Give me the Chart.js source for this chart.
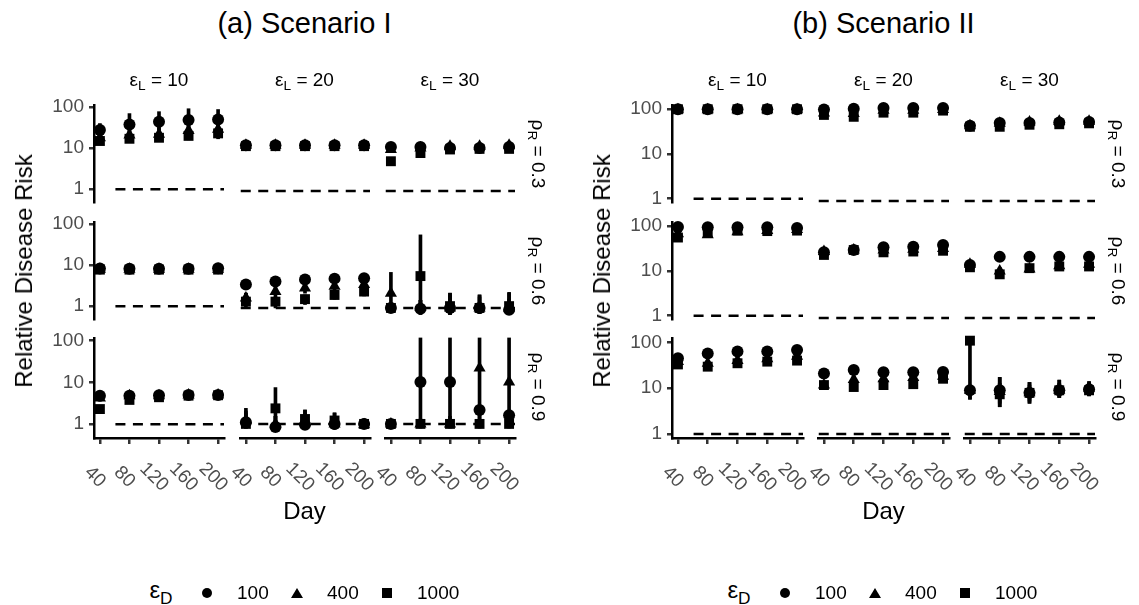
<!DOCTYPE html>
<html>
<head>
<meta charset="utf-8">
<script src="https://cdn.jsdelivr.net/npm/chart.js@4.4.1/dist/chart.umd.min.js"></script>
<style>
body { margin: 0; background: #fff; width: 1139px; height: 605px; position: relative; overflow: hidden; font-family: 'Liberation Sans', Arial, sans-serif; }
canvas { position: absolute; }
.t { position: absolute; white-space: nowrap; color: #000; line-height: 1; }
.t sub { font-size: 72%; vertical-align: baseline; position: relative; top: 0.32em; }
</style>
</head>
<body>
<script>
// categories
const days = [40, 80, 120, 160, 200];
const epsL = ['10', '20', '30'];
const rhoR = ['0.3', '0.6', '0.9'];
const epsD = ['100', '400', '1000'];
const yTicks = [1, 10, 100];

// one row per facet: (rhoR 0.3, epsL 10), (0.3, 20), (0.3, 30), (0.6, 10) ... (0.9, 30)
// Scenario I
const aEst100 = [[28, 38, 44, 49, 50], [11.5, 11.5, 11.5, 11.5, 11.5], [10.5, 10.5, 10, 10, 10.5],
                 [8.3, 8.2, 8.2, 8.2, 8.4], [3.5, 4.1, 4.6, 4.8, 4.9], [1.0, 0.95, 1.0, 1.0, 0.9],
                 [4.8, 4.8, 4.9, 5.0, 5.0], [1.1, 0.85, 0.95, 1.0, 1.0], [1.0, 9.5, 9.5, 2.1, 1.6]];
const aLo100 = [[20, 25, 28, 32, 32], [10, 10, 10, 10, 10], [9, 9, 9, 9, 9],
                [7, 7, 7, 7, 7], [3, 3.5, 4, 4, 4], [0.8, 0.75, 0.7, 0.75, 0.8],
                [4, 4, 4.2, 4.3, 4.3], [0.8, 0.75, 0.8, 0.75, 0.8], [0.9, 1.0, 1.0, 1.0, 1.0]];
const aHi100 = [[40, 70, 78, 92, 88], [13, 13, 13, 13, 13], [12, 12, 12, 12, 12],
                [9.5, 9.5, 9.5, 9.5, 9.5], [4, 4.6, 5.2, 5.4, 5.5], [1.3, 1.5, 2.2, 2.0, 2.2],
                [5.5, 5.5, 5.5, 5.6, 5.6], [2.3, 1.5, 2.1, 1.8, 1.3], [1.2, 100, 100, 2.5, 2.0]];
const aEst400 = [[18, 21, 22, 27, 29], [11.5, 11.5, 11.5, 11.5, 11.5], [9.2, 10, 11, 11, 11.5],
                 [8.0, 8.0, 8.0, 8.0, 8.0], [1.7, 2.4, 2.9, 3.2, 3.5], [2.2, 1.05, 1.0, 1.0, 1.0],
                 [4.2, 4.8, 4.8, 5.0, 5.0], [1.2, 1.0, 1.1, 1.0, 0.95], [1.0, 1.0, 1.0, 20, 9.5]];
const aLo400 = [[14, 16, 17, 19, 20], [10, 10, 10, 10, 10], [8, 8.5, 9.5, 9.5, 9.5],
                [7, 7, 7, 7, 7], [1.2, 1.8, 2.2, 2.5, 2.8], [1.0, 0.7, 0.7, 0.75, 0.8],
                [3.6, 4, 4.2, 4.3, 4.3], [0.8, 0.8, 0.85, 0.8, 0.8], [0.9, 1.0, 1.0, 1.0, 1.0]];
const aHi400 = [[24, 30, 32, 40, 42], [13, 13, 13, 13, 13], [10.5, 11.5, 12.5, 12.5, 13],
                [9.2, 9.2, 9.2, 9.2, 9.2], [2.2, 3, 3.5, 3.8, 4.2], [6.7, 1.5, 2.0, 1.8, 1.6],
                [5, 5.5, 5.5, 5.6, 5.6], [1.8, 1.5, 1.6, 1.5, 1.2], [1.2, 1.3, 1.5, 100, 100]];
const aEst1000 = [[15, 17, 18, 20, 23], [11, 11, 11, 11, 11], [4.9, 7.6, 9.2, 9.5, 9.5],
                  [7.8, 7.8, 7.8, 7.8, 7.8], [1.4, 1.4, 1.6, 2.0, 2.4], [1.0, 5.5, 1.1, 1.0, 1.1],
                  [2.3, 3.8, 4.4, 4.8, 4.9], [1.0, 2.3, 1.3, 1.2, 1.0], [1.0, 1.0, 1.0, 1.0, 1.0]];
const aLo1000 = [[13, 14, 15, 16, 17], [10, 10, 10, 10, 10], [4.2, 6.8, 8.3, 8.5, 8.5],
                 [6.8, 6.8, 6.8, 6.8, 6.8], [1.0, 1.0, 1.2, 1.6, 1.9], [0.8, 1.0, 0.75, 0.75, 0.75],
                 [2.0, 3.3, 3.9, 4.2, 4.3], [0.8, 1.0, 0.9, 0.8, 0.8], [0.9, 0.8, 0.8, 0.8, 0.8]];
const aHi1000 = [[17, 20, 21, 24, 28], [12.5, 12.5, 12.5, 12.5, 12.5], [5.5, 8.5, 10, 10.5, 10.5],
                 [8.8, 8.8, 8.8, 8.8, 8.8], [2.2, 1.8, 2.0, 2.5, 3.0], [1.3, 50, 2.2, 2.0, 2.3],
                 [2.7, 4.3, 4.9, 5.3, 5.4], [2.0, 7.0, 2.1, 1.8, 1.3], [1.2, 1.2, 1.2, 1.2, 1.2]];

// Scenario II
const bEst100 = [[100, 100, 100, 100, 100], [89, 92, 95, 95, 95], [40, 46, 46, 47, 48],
                 [96, 95, 95, 95, 92], [25, 28, 32, 33, 36], [13.5, 20, 20, 20, 20],
                 [45, 57, 63, 63, 68], [19.5, 23, 20.5, 20.5, 21], [8.5, 8.5, 7.5, 8.5, 9]];
const bLo100 = [[95, 95, 95, 95, 95], [80, 82, 86, 86, 86], [35, 40, 40, 41, 42],
                [88, 87, 87, 87, 85], [22, 25, 28, 29, 31], [11.5, 17.5, 17.5, 17.5, 17.5],
                [40, 50, 55, 55, 58], [17, 20, 18, 18, 18.5], [5.5, 3.8, 4.5, 6, 6.5]];
const bHi100 = [[104, 104, 104, 104, 104], [98, 100, 102, 102, 102], [46, 52, 52, 53, 54],
                [104, 104, 104, 104, 100], [28, 31, 36, 37, 40], [15.5, 22.5, 22.5, 22.5, 22.5],
                [50, 64, 70, 70, 75], [22, 26, 23, 23, 24], [10, 16, 12.5, 14, 13]];
const bEst400 = [[97, 97, 97, 97, 97], [75, 73, 86, 86, 89], [40, 45, 48, 50, 50],
                 [68, 65, 75, 80, 85], [26, 28, 28, 29, 30], [14, 10, 11, 13, 14],
                 [38, 35, 40, 44, 50], [11, 14.5, 15, 16, 17], [8.5, 8.0, 7.5, 8.5, 9.5]];
const bLo400 = [[92, 92, 92, 92, 92], [66, 64, 76, 76, 80], [35, 40, 42, 44, 44],
                [58, 56, 65, 70, 74], [22, 25, 25, 26, 26], [12, 8.5, 9.5, 11, 12],
                [32, 29, 34, 37, 42], [9.2, 12, 12.5, 13.5, 14], [5.5, 3.8, 4.5, 6, 6.5]];
const bHi400 = [[102, 102, 102, 102, 102], [84, 82, 95, 95, 98], [45, 50, 54, 56, 56],
                [78, 75, 86, 90, 95], [30, 31, 31, 32, 34], [16, 12, 13, 15, 16],
                [44, 41, 46, 51, 58], [13, 17, 17.5, 18.5, 20], [11, 16, 12.5, 14, 13]];
const bEst1000 = [[100, 100, 100, 100, 100], [68, 62, 76, 76, 84], [38, 38, 42, 43, 45],
                  [56, 72, 80, 78, 80], [22, 28, 25, 26, 27], [12, 8.5, 11.5, 12.5, 12.5],
                  [33, 29.5, 35, 38, 40], [11, 10, 11, 11.5, 15], [97, 7, 7.5, 8.5, 8.5]];
const bLo1000 = [[95, 95, 95, 95, 95], [60, 55, 68, 68, 75], [34, 34, 37, 38, 40],
                 [48, 63, 70, 69, 71], [19, 25, 22, 23, 24], [10, 7.5, 10, 11, 11],
                 [28, 26, 31, 34, 35], [9.5, 8.8, 9.8, 10, 13], [8, 4.5, 5, 6, 6.5]];
const bHi1000 = [[104, 104, 104, 104, 104], [76, 70, 85, 85, 93], [42, 42, 47, 48, 50],
                 [65, 82, 90, 88, 90], [25, 31, 28, 29, 30], [14, 9.8, 13, 14, 14],
                 [38, 34, 40, 43, 46], [12.5, 11.5, 12.5, 13, 17], [100, 12, 11, 12, 12]];

// dashed reference line at relative risk 1 (day range per column)
const refFrom = [61, 33, 33];
const refTo = 208;

const FONT = "'Liberation Sans', Arial, sans-serif";
const tops = [103, 219.5, 336];
const H = 102;

const panels = [
    { title: '(a) Scenario I', lefts: [94, 239.5, 385], w: 130, ymin: 0.47, ymax: 111,
      est: [aEst100, aEst400, aEst1000], lo: [aLo100, aLo400, aLo1000], hi: [aHi100, aHi400, aHi1000] },
    { title: '(b) Scenario II', lefts: [672, 818, 964], w: 131, ymin: 0.82, ymax: 122,
      est: [bEst100, bEst400, bEst1000], lo: [bLo100, bLo400, bLo1000], hi: [bHi100, bHi400, bHi1000] }
];

const shapes = ['circle', 'triangle', 'rect'];
const radii = [6, 7, 7];

function text(html, x, y, size, rot, color) {
    const d = document.createElement('div');
    d.className = 't';
    d.innerHTML = html;
    d.style.fontSize = size + 'px';
    d.style.left = x + 'px';
    d.style.top = y + 'px';
    d.style.color = color || '#000';
    d.style.transform = 'translate(-50%,-50%)' + (rot ? ' rotate(' + rot + 'deg)' : '');
    document.body.appendChild(d);
    return d;
}

// rotated day labels under the bottom row
const xLabels = {
    id: 'xLabels',
    afterDraw(chart, args, opts) {
        if (!opts.show) return;
        const ctx = chart.ctx, s = chart.scales.x, yb = chart.chartArea.bottom;
        ctx.save();
        ctx.fillStyle = '#4d4d4d';
        ctx.font = '19px ' + FONT;
        ctx.textAlign = 'center';
        ctx.textBaseline = 'middle';
        days.forEach(d => {
            ctx.save();
            ctx.translate(s.getPixelForValue(d) - 5, yb + 39);
            ctx.rotate(Math.PI / 4);
            ctx.fillText(String(d), 0, 0);
            ctx.restore();
        });
        ctx.restore();
    }
};

function makeFacet(P, r, c) {
    const f = r * 3 + c;
    const yw = c == 0 ? 50 : 0;
    const xh = r == 2 ? 6 : 0;
    const pad = { top: 14, right: 14, bottom: r == 2 ? 62 : 14, left: 14 };
    const cv = document.createElement('canvas');
    const cw = P.w + pad.left + pad.right + yw;
    const ch = H + pad.top + pad.bottom + xh;
    cv.width = cw; cv.height = ch;
    cv.style.width = cw + 'px'; cv.style.height = ch + 'px';
    cv.style.left = (P.lefts[c] - pad.left - yw) + 'px';
    cv.style.top = (tops[r] - pad.top) + 'px';
    document.body.appendChild(cv);

    const datasets = [];
    // points: square on top, circle at the bottom
    for (let s = 2; s >= 0; s--) {
        datasets.push({
            type: 'scatter',
            data: days.map((d, i) => ({ x: d, y: P.est[s][f][i] })),
            pointStyle: shapes[s],
            pointRadius: radii[s],
            backgroundColor: '#000',
            borderWidth: 0,
            clip: false
        });
    }
    // interval lines
    for (let s = 2; s >= 0; s--) {
        datasets.push({
            type: 'bar',
            data: days.map((d, i) => ({ x: d, y: [P.lo[s][f][i], P.hi[s][f][i]] })),
            backgroundColor: '#000',
            borderWidth: 0,
            barThickness: 3,
            grouped: false,
            clip: false
        });
    }
    datasets.push({
        type: 'line',
        data: [{ x: refFrom[c], y: 1 }, { x: refTo, y: 1 }],
        borderColor: '#000',
        borderWidth: 2.5,
        borderDash: [10, 7.5],
        pointRadius: 0,
        clip: false
    });

    new Chart(cv, {
        type: 'scatter',
        data: { datasets: datasets },
        options: {
            responsive: false,
            animation: false,
            events: [],
            devicePixelRatio: 1,
            layout: { padding: pad },
            plugins: { legend: { display: false }, tooltip: { enabled: false }, xLabels: { show: r == 2 } },
            scales: {
                x: {
                    type: 'linear', min: 32, max: 208, display: r == 2, offset: false,
                    afterBuildTicks: sc => { sc.ticks = days.map(v => ({ value: v })); },
                    afterFit: sc => { sc.height = xh; },
                    ticks: { display: false },
                    grid: { drawOnChartArea: false, tickLength: 6, color: '#333', lineWidth: 2.5, offset: false },
                    border: { display: true, color: '#000', width: 2.5 }
                },
                y: {
                    type: 'logarithmic', min: P.ymin, max: P.ymax, display: c == 0, position: 'left',
                    afterBuildTicks: sc => { sc.ticks = yTicks.map(v => ({ value: v })); },
                    afterFit: sc => { sc.width = yw; },
                    ticks: { font: { family: FONT, size: 19 }, color: '#4d4d4d', padding: 5, callback: v => String(v) },
                    grid: { drawOnChartArea: false, tickLength: 5, color: '#333', lineWidth: 2.5 },
                    border: { display: true, color: '#000', width: 2.5 }
                }
            }
        },
        plugins: [xLabels]
    });
}

panels.forEach((P, k) => {
    const off = k * 578;
    for (let r = 0; r < 3; r++) {
        for (let c = 0; c < 3; c++) makeFacet(P, r, c);
    }
    const left = P.lefts[0], right = P.lefts[2] + P.w;
    const mid = (left + right) / 2;
    text(P.title, mid, 23, 29);
    for (let c = 0; c < 3; c++) {
        text('&epsilon;<sub>L</sub> = ' + epsL[c], P.lefts[c] + P.w / 2, 79, 19);
    }
    for (let r = 0; r < 3; r++) {
        text('&rho;<sub>R</sub> = ' + rhoR[r], right + 23, tops[r] + H / 2, 19, 90);
    }
    text('Relative Disease Risk', 24 + off, (tops[0] + tops[2] + H) / 2, 24, -90);
    text('Day', mid, 511, 24);

    // legend
    text('&epsilon;<sub>D</sub>', 161 + off, 590, 24);
    const mk = [
        'width:10px;height:10px;border-radius:50%;background:#000;',
        'width:0;height:0;border-left:6px solid transparent;border-right:6px solid transparent;border-bottom:10px solid #000;',
        'width:10px;height:10px;background:#000;'
    ];
    const mx = [207, 297, 387];
    for (let s = 0; s < 3; s++) {
        const m = document.createElement('div');
        m.style.cssText = 'position:absolute;' + mk[s] + 'left:' + (mx[s] + off) + 'px;top:593px;transform:translate(-50%,-50%);';
        document.body.appendChild(m);
        const lab = text(epsD[s], 0, 592, 19);
        lab.style.transform = 'translate(0,-50%)';
        lab.style.left = (mx[s] + off + 30) + 'px';
    }
});
</script>
</body>
</html>
